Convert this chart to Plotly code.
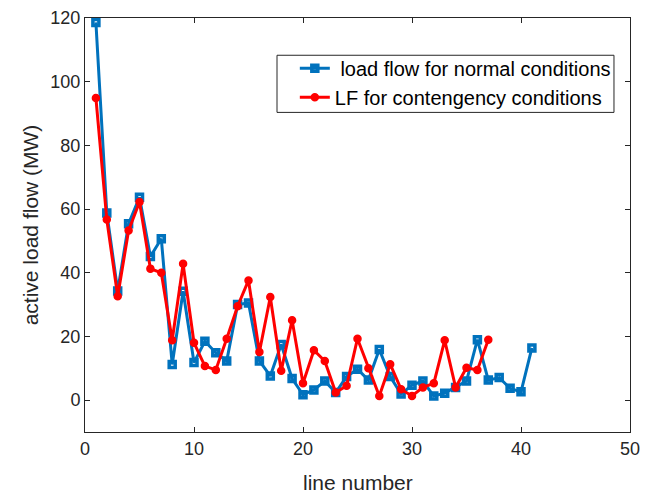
import plotly.graph_objects as go

# Active power flow per line (MW)
line_normal = list(range(1, 42))
flow_normal = [118.6, 58.8, 34.3, 55.4, 63.7, 45.1, 50.7, 11.2, 34.2, 11.8,
               18.5, 14.9, 12.3, 30.0, 30.5, 12.3, 7.6, 17.5, 6.8, 1.7,
               3.2, 6.0, 2.4, 7.4, 9.7, 6.3, 15.9, 7.4, 1.9, 4.7,
               6.0, 1.3, 2.2, 4.0, 6.0, 19.0, 6.3, 7.1, 3.7, 2.6,
               16.4]

line_contingency = list(range(1, 38))
flow_contingency = [94.9, 56.7, 32.6, 53.3, 62.2, 41.3, 40.0, 18.8, 42.8, 18.0,
                    10.7, 9.5, 19.3, 29.5, 37.6, 15.1, 32.4, 9.2, 25.1, 5.3,
                    15.7, 12.3, 2.4, 4.5, 19.3, 10.0, 1.3, 11.3, 3.4, 1.3,
                    4.0, 5.3, 18.8, 4.0, 10.2, 9.5, 19.0]

x_ticks = [0, 10, 20, 30, 40, 50]
y_ticks = [0, 20, 40, 60, 80, 100, 120]

BLUE = "#0072BD"
RED = "#FF0000"
AXIS = "#262626"
FONT = "Liberation Sans, Arial, sans-serif"

fig = go.Figure()
fig.add_trace(go.Scatter(
    x=line_normal, y=flow_normal, mode="lines+markers",
    name=" load flow for normal conditions",
    line=dict(color=BLUE, width=3),
    marker=dict(symbol="square-open", size=6, color=BLUE,
                line=dict(color=BLUE, width=3.5)),
))
fig.add_trace(go.Scatter(
    x=line_contingency, y=flow_contingency, mode="lines+markers",
    name="LF for contengency conditions",
    line=dict(color=RED, width=3),
    marker=dict(symbol="circle", size=7, color=RED,
                line=dict(color=RED, width=1.5)),
))

axis_common = dict(
    showline=True, linecolor=AXIS, linewidth=1, mirror="ticks",
    ticks="inside", ticklen=5, tickwidth=1, tickcolor=AXIS,
    showgrid=False, zeroline=False, automargin=False,
    tickfont=dict(family=FONT, size=18, color=AXIS),
)

# legend frame
fig.add_shape(type="rect", xref="paper", yref="paper",
              x0=0.3523, x1=0.9706, y0=0.772, y1=0.910,
              line=dict(color=AXIS, width=1), fillcolor="white", layer="below")

# x-axis title
fig.add_annotation(text="line number", xref="paper", yref="paper",
                   x=0.5, y=-0.121, xanchor="center", yanchor="middle",
                   showarrow=False, font=dict(family=FONT, size=21, color=AXIS))

fig.update_layout(
    width=646, height=494,
    margin=dict(l=85, r=16, t=18, b=62),
    paper_bgcolor="white", plot_bgcolor="white",
    font=dict(family=FONT, color=AXIS),
    xaxis=dict(range=[0, 50], tickvals=x_ticks, **axis_common),
    yaxis=dict(range=[-10, 120], tickvals=y_ticks,
               title=dict(text="active load flow (MW)",
                          font=dict(size=21, color=AXIS), standoff=6),
               **axis_common),
    legend=dict(x=0.385, y=0.926, xanchor="left", yanchor="top",
                bgcolor="rgba(0,0,0,0)", borderwidth=0,
                font=dict(family=FONT, size=20, color="black"),
                tracegroupgap=0, itemwidth=30),
    showlegend=True,
)

fig.write_html("out.html")
